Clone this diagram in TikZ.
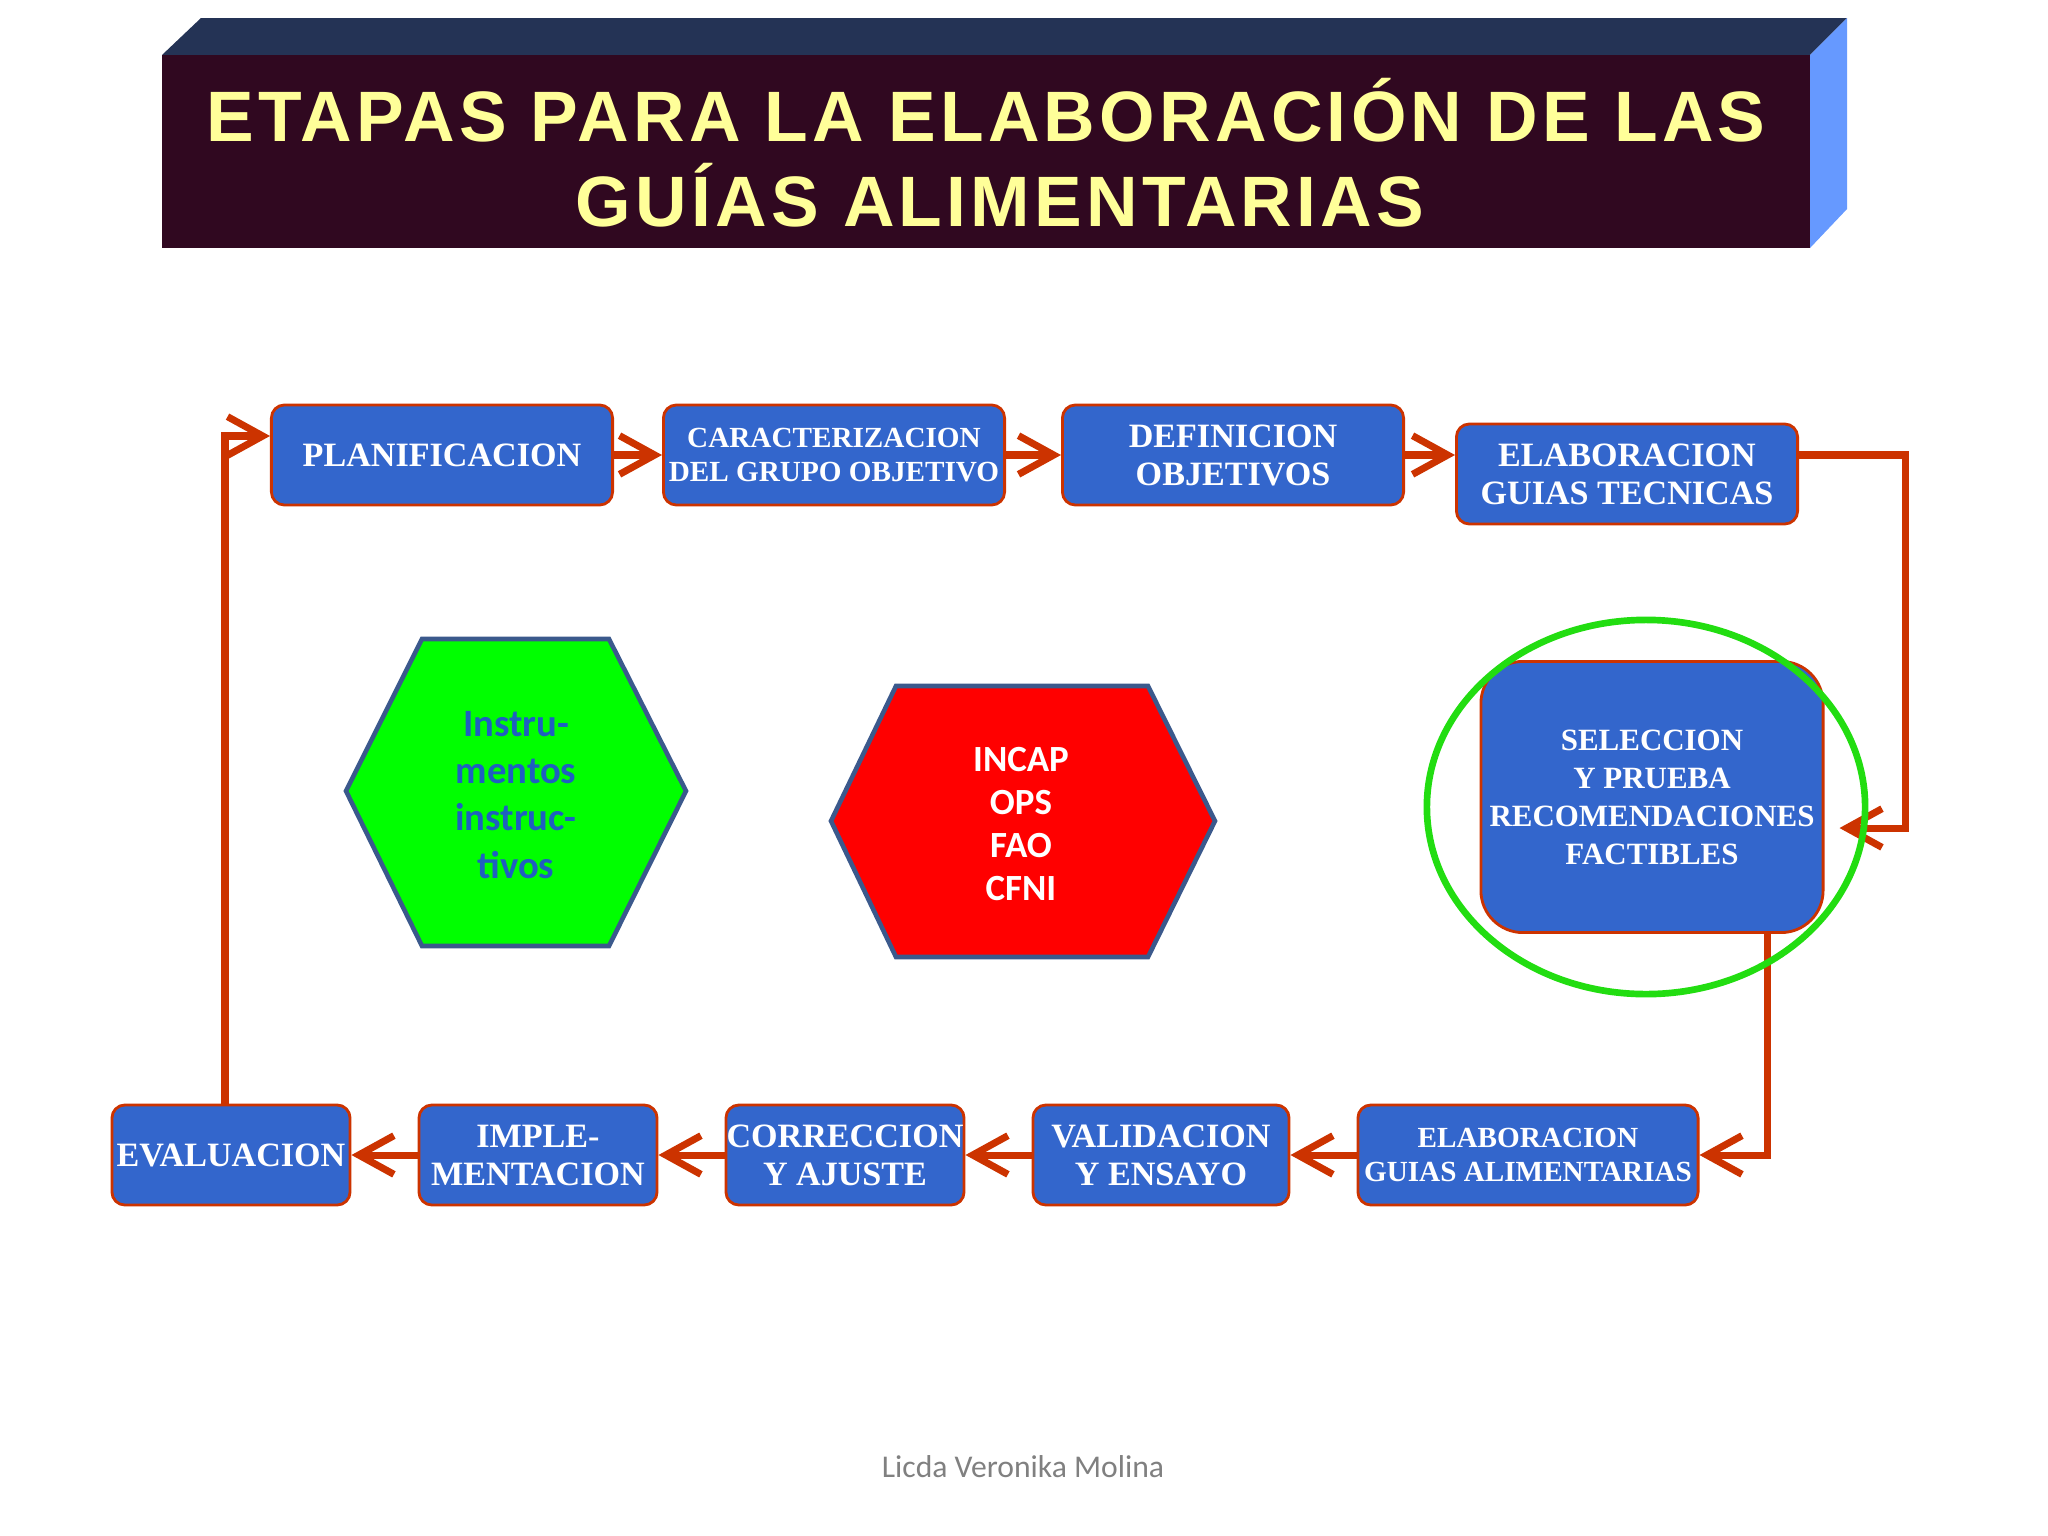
\documentclass[tikz,border=0pt]{standalone}
\usepackage{fontspec}
\setmainfont{Liberation Serif}
\newfontfamily\etapafont{Liberation Serif}
\newfontfamily\titlefont{Liberation Sans}[LetterSpace=6]
\newfontfamily\calfont{Carlito}
\usepackage{tikz}
\usetikzlibrary{positioning}
\usetikzlibrary{shapes.geometric, arrows.meta}
\definecolor{azul}{RGB}{51,102,204}
\definecolor{rojizo}{RGB}{204,51,0}
\definecolor{verde}{RGB}{0,255,0}
\definecolor{anillo}{RGB}{34,221,17}
\definecolor{borde}{RGB}{59,89,140}
\definecolor{granate}{RGB}{48,8,32}
\definecolor{marino}{RGB}{36,51,85}
\definecolor{celeste}{RGB}{102,153,255}
\definecolor{amarillo}{RGB}{255,255,153}
\definecolor{azultexto}{RGB}{31,95,192}
\tikzstyle{etapa} = [draw=rojizo, line width=0.8pt, fill=azul, rounded corners=0.13cm, text=white, align=center, inner sep=0pt, minimum height=1cm, font=\etapafont\bfseries\fontsize{9.7}{10.8}\selectfont]
\tikzstyle{chica} = [font=\etapafont\bfseries\fontsize{8.3}{9.6}\selectfont]
\tikzstyle{flecha} = [draw=rojizo, line width=2pt, -{Straight Barb[length=10pt,width=11pt]}]
\tikzstyle{hexa} = [draw=borde, line width=1.3pt]
\tikzstyle{hextexto} = [align=center, font=\calfont\bfseries\fontsize{11}{13.4}\selectfont]
\tikzstyle{titulo} = [text=amarillo, inner sep=0pt, font=\titlefont\bfseries\fontsize{20.3}{24}\selectfont]

\begin{document}
\begin{tikzpicture}[x=0.01cm, y=-0.01cm]
\useasboundingbox (0,0) rectangle (2048,1536);
% titulo
\fill[marino] (162,55) -- (201,18) -- (1847,18) -- (1810,55) -- cycle;
\fill[celeste] (1810,55) -- (1847,18) -- (1847,209) -- (1810,248) -- cycle;
\fill[granate] (162,55) rectangle (1810,248);
\node[titulo, anchor=base] (tit1) at (986,141) {ETAPAS PARA LA ELABORACIÓN DE LAS};
\node[titulo, anchor=base] (tit2) at (1000,226) {GUÍAS ALIMENTARIAS};

% hexagonos
\draw[hexa, fill=verde] (346,791) -- (422,639) -- (609,639) -- (686,791) -- (609,946) -- (422,946) -- cycle;
\node[hextexto, text=azultexto] (instr) at (516,795) {Instru-\\mentos\\instruc-\\tivos};
\draw[hexa, fill=red] (831,821) -- (896,686) -- (1148,686) -- (1215,821) -- (1148,957) -- (896,957) -- cycle;
\node[hextexto, text=white, font=\calfont\bfseries\fontsize{10.5}{12.2}\selectfont] (inst) at (1021,824) {INCAP\\OPS\\FAO\\CFNI};

% etapas
\node[etapa, minimum width=3.41cm] (plan) at (442,455) {PLANIFICACION};
\node[etapa, chica, minimum width=3.41cm] (carac) at (834,455) {CARACTERIZACION\\DEL GRUPO OBJETIVO};
\node[etapa, minimum width=3.41cm] (def) at (1233,455) {DEFINICION\\OBJETIVOS};
\node[etapa, minimum width=3.41cm] (elab) at (1627,474) {ELABORACION\\GUIAS TECNICAS};
\node[etapa, minimum width=3.42cm, minimum height=2.71cm, rounded corners=0.42cm, font=\etapafont\bfseries\fontsize{8.8}{10.8}\selectfont] (sel) at (1652,797) {SELECCION\\Y PRUEBA\\RECOMENDACIONES\\FACTIBLES};
\node[etapa, chica, minimum width=3.40cm] (elabga) at (1528,1155) {ELABORACION\\GUIAS ALIMENTARIAS};
\node[etapa, minimum width=2.56cm] (valid) at (1161,1155) {VALIDACION\\Y ENSAYO};
\node[etapa, minimum width=2.38cm] (corr) at (845,1155) {CORRECCION\\Y AJUSTE};
\node[etapa, minimum width=2.38cm] (imple) at (538,1155) {IMPLE-\\MENTACION};
\node[etapa, minimum width=2.38cm] (eval) at (231,1155) {EVALUACION};

% flechas
\draw[flecha] (plan.east) -- (carac.west);
\draw[flecha] (carac.east) -- (def.west);
\draw[flecha] (def.east) -- (def.east -| elab.west);
\draw[flecha, shorten >=0.15cm] (def.east -| elab.east) -- ++(106,0) |- ([yshift=-0.31cm]sel.east);
\draw[flecha] ([xshift=1.15cm]sel.south) |- (elabga.east);
\draw[flecha] (elabga.west) -- (valid.east);
\draw[flecha] (valid.west) -- (corr.east);
\draw[flecha] (corr.west) -- (imple.east);
\draw[flecha] (imple.west) -- (eval.east);
\draw[flecha] ([xshift=-0.06cm]eval.north) |- ([yshift=0.19cm]plan.west);

\node[draw=anillo, line width=1.9pt, ellipse, minimum width=4.38cm, minimum height=3.74cm] (circ) at (1646,807) {};

\node[text=gray, font=\calfont\fontsize{9}{11}\selectfont] (autora) at (1023,1467) {Licda Veronika Molina};
\end{tikzpicture}
\end{document}
